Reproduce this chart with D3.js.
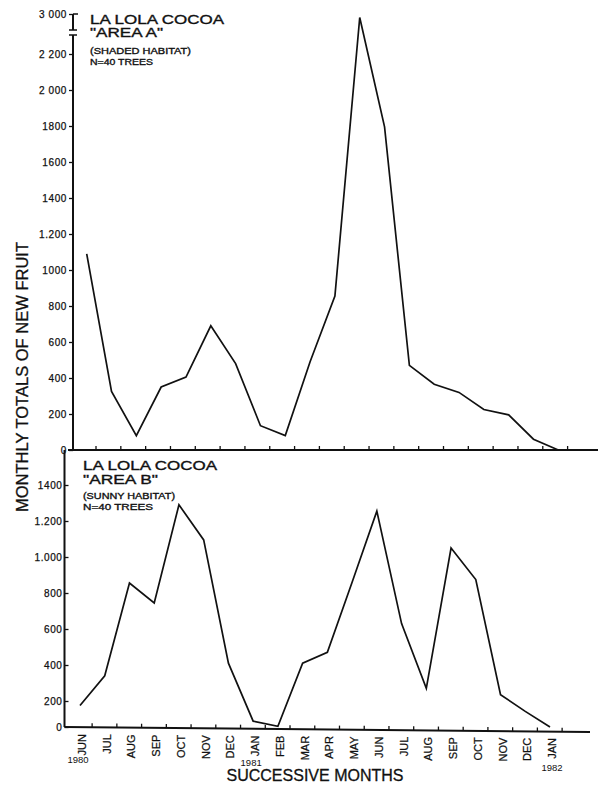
<!DOCTYPE html>
<html>
<head>
<meta charset="utf-8">
<script src="https://cdn.jsdelivr.net/npm/d3@7"></script>
<style>
  html, body { margin: 0; padding: 0; background: #fff; }
  svg { display: block; font-family: "Liberation Sans", Arial, Helvetica, sans-serif; }
</style>
</head>
<body>
<script>
// ---------------- DATA ----------------
const months = ["JUN","JUL","AUG","SEP","OCT","NOV","DEC","JAN","FEB","MAR",
                "APR","MAY","JUN","JUL","AUG","SEP","OCT","NOV","DEC","JAN"];
const yearLabels = [
  { index: 0,  label: "1980" },
  { index: 7,  label: "1981" },
  { index: 19, label: "1982" }
];
// Monthly totals of new fruit, Area A (shaded habitat)
const areaA = [1090, 325, 80, 350, 405, 690, 480, 135, 80, 490,
               855, 2930, 1795, 470, 365, 320, 225, 195, 60, 0];
// Monthly totals of new fruit, Area B (sunny habitat)
const areaB = [165, 340, 855, 745, 1290, 1095, 410, 45, 5, 410,
               470, 860, 1255, 630, 270, 1050, 875, 235, 120, 0];

const topTickValues = [0, 200, 400, 600, 800, 1000, 1200, 1400, 1600, 1800, 2000, 2200, 3000];
const topTickLabels = ["0","200","400","600","800","1000","1.200","1400","1600","1800","2 000","2 200","3 000"];
const botTickValues = [0, 200, 400, 600, 800, 1000, 1200, 1400];
const botTickLabels = ["0","200","400","600","800","1.000","1.200","1400"];

const titleA = ["LA LOLA COCOA", "\"AREA A\"", "(SHADED HABITAT)", "N=40 TREES"];
const titleB = ["LA LOLA COCOA", "\"AREA B\"", "(SUNNY HABITAT)", "N=40 TREES"];
const yTitle = "MONTHLY TOTALS OF NEW FRUIT";
const xTitle = "SUCCESSIVE MONTHS";

// ---------------- LAYOUT ----------------
const W = 598, H = 786;
const svg = d3.select("body").append("svg").attr("width", W).attr("height", H);
svg.append("rect").attr("width", W).attr("height", H).attr("fill", "#fff");

const ink = "#111";

// Scales (top axis is broken between 2200 and 3000)
const yTop = d3.scaleLinear().domain([0, 2200, 3000]).range([450, 54, 14]);
const xTop = d3.scaleLinear().domain([0, 19]).range([86.7, 558.3]);
const yBot = d3.scaleLinear().domain([0, 200, 1400]).range([727, 701, 485]);
const xBot = d3.scaleLinear().domain([0, 19]).range([80, 550]);

const line = (xs, ys) => d3.line().x((d, i) => xs(i)).y(d => ys(d)).curve(d3.curveLinear);

// ---------- TOP PANEL ----------
const topAxisX = 73;
const gTopY = svg.append("g").attr("transform", `translate(${topAxisX},0)`)
  .call(d3.axisLeft(yTop).tickValues(topTickValues)
        .tickFormat((d, i) => topTickLabels[i])
        .tickSizeInner(4).tickSizeOuter(0).tickPadding(2));
gTopY.select(".domain").remove();
gTopY.selectAll(".tick line").attr("stroke", ink).attr("stroke-width", 1.3);
gTopY.selectAll(".tick text").attr("fill", ink).style("font-size", "10px")
  .style("letter-spacing", "0.6px").attr("font-family", null)
  .attr("stroke", ink).attr("stroke-width", 0.25);

// axis line with break
const brkHi = yTop(2680), brkLo = yTop(2580);
svg.append("path")
  .attr("d", `M${topAxisX},${yTop(3000)}V${brkHi}M${topAxisX},${brkLo}V${yTop(0)}`)
  .attr("stroke", ink).attr("stroke-width", 2).attr("fill", "none");
svg.append("path")
  .attr("d", `M${topAxisX - 4},${brkHi}H${topAxisX + 4}M${topAxisX - 4},${brkLo}H${topAxisX + 4}M${topAxisX},${yTop(3000)}H${topAxisX + 5}`)
  .attr("stroke", ink).attr("stroke-width", 1.5).attr("fill", "none");

// x axis (top)
svg.append("line").attr("x1", 68).attr("x2", W).attr("y1", yTop(0)).attr("y2", yTop(0))
  .attr("stroke", ink).attr("stroke-width", 2);
svg.append("g").selectAll("line").data(months).join("line")
  .attr("x1", (d, i) => xTop(i + 0.375)).attr("x2", (d, i) => xTop(i + 0.375))
  .attr("y1", yTop(0)).attr("y2", yTop(0) - 4)
  .attr("stroke", ink).attr("stroke-width", 1.3);

// data line A
svg.append("path").datum(areaA)
  .attr("d", line(xTop, yTop))
  .attr("fill", "none").attr("stroke", ink).attr("stroke-width", 1.7)
  .attr("stroke-linejoin", "miter");

// title A
const tA = [
  { y: 23.5, size: 13, len: 134 },
  { y: 37,   size: 13, len: 73 },
  { y: 54,   size: 9,  len: 101 },
  { y: 65,   size: 9,  len: 63 }
];
svg.append("g").selectAll("text").data(titleA).join("text")
  .attr("x", 90).attr("y", (d, i) => tA[i].y)
  .style("font-size", (d, i) => tA[i].size + "px")
  .attr("textLength", (d, i) => tA[i].len).attr("lengthAdjust", "spacingAndGlyphs")
  .attr("fill", ink).attr("stroke", ink).attr("stroke-width", 0.35).text(d => d);

// ---------- BOTTOM PANEL ----------
const botAxisX = 64.5;
const gBotY = svg.append("g").attr("transform", `translate(${botAxisX},0)`)
  .call(d3.axisLeft(yBot).tickValues(botTickValues)
        .tickFormat((d, i) => botTickLabels[i])
        .tickSizeInner(-4).tickSizeOuter(0).tickPadding(2));
gBotY.select(".domain").remove();
gBotY.selectAll(".tick line").attr("stroke", ink).attr("stroke-width", 1.3);
gBotY.selectAll(".tick text").attr("fill", ink).style("font-size", "10px")
  .style("letter-spacing", "0.6px").attr("font-family", null)
  .attr("stroke", ink).attr("stroke-width", 0.25);

svg.append("line").attr("x1", botAxisX).attr("x2", botAxisX)
  .attr("y1", yTop(0)).attr("y2", yBot(0))
  .attr("stroke", ink).attr("stroke-width", 2);
svg.append("line").attr("x1", botAxisX).attr("x2", 590)
  .attr("y1", yBot(0)).attr("y2", yBot(0) + 5)
  .attr("stroke", ink).attr("stroke-width", 2);

svg.append("g").selectAll("line").data(months).join("line")
  .attr("x1", (d, i) => xBot(i + 0.49)).attr("x2", (d, i) => xBot(i + 0.49))
  .attr("y1", (d, i) => yBot(0) + 5 * (xBot(i + 0.49) - botAxisX) / (590 - botAxisX))
  .attr("y2", (d, i) => yBot(0) + 5 * (xBot(i + 0.49) - botAxisX) / (590 - botAxisX) - 4)
  .attr("stroke", ink).attr("stroke-width", 1.3);

// data line B
svg.append("path").datum(areaB)
  .attr("d", line(xBot, yBot))
  .attr("fill", "none").attr("stroke", ink).attr("stroke-width", 1.7)
  .attr("stroke-linejoin", "miter");

// month labels
svg.append("g").selectAll("text").data(months).join("text")
  .attr("transform", (d, i) => `translate(${xBot(i) + 6},${yBot(0) + 7 + 4 * i / 19}) rotate(-90)`)
  .attr("text-anchor", "end")
  .style("font-size", "11px").attr("fill", ink)
  .attr("stroke", ink).attr("stroke-width", 0.25).text(d => d);

// year labels
const yearDx = [-2, -2, 2], yearY = [763, 766, 771];
svg.append("g").selectAll("text").data(yearLabels).join("text")
  .attr("x", (d, i) => xBot(d.index) + yearDx[i]).attr("y", (d, i) => yearY[i])
  .attr("text-anchor", "middle").style("font-size", "9.5px").attr("fill", ink)
  .text(d => d.label);

// title B
const tB = [
  { y: 470.3, size: 12.5, len: 134 },
  { y: 483.5, size: 12.5, len: 75 },
  { y: 499,   size: 9,    len: 92 },
  { y: 510,   size: 9,    len: 70 }
];
svg.append("g").selectAll("text").data(titleB).join("text")
  .attr("x", 83).attr("y", (d, i) => tB[i].y)
  .style("font-size", (d, i) => tB[i].size + "px")
  .attr("textLength", (d, i) => tB[i].len).attr("lengthAdjust", "spacingAndGlyphs")
  .attr("fill", ink).attr("stroke", ink).attr("stroke-width", 0.35).text(d => d);

// ---------- AXIS TITLES ----------
svg.append("text")
  .attr("transform", "translate(28,377) rotate(-90)")
  .attr("text-anchor", "middle").style("font-size", "17px")
  .attr("textLength", 270).attr("lengthAdjust", "spacingAndGlyphs")
  .attr("fill", ink).attr("stroke", ink).attr("stroke-width", 0.3).text(yTitle);

svg.append("text")
  .attr("x", 315).attr("y", 781)
  .attr("text-anchor", "middle").style("font-size", "16px")
  .attr("textLength", 177).attr("lengthAdjust", "spacingAndGlyphs")
  .attr("fill", ink).attr("stroke", ink).attr("stroke-width", 0.3).text(xTitle);
</script>
</body>
</html>
